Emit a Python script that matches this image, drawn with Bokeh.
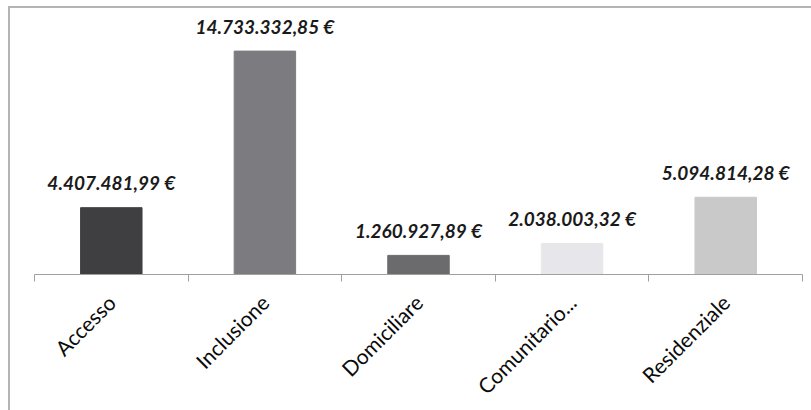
from bokeh.plotting import figure
from bokeh.models import ColumnDataSource, FixedTicker, Range1d
from bokeh.core.properties import value
from bokeh.embed import file_html
from bokeh.resources import INLINE

categories = ["Accesso", "Inclusione", "Domiciliare", "Comunitario...", "Residenziale"]
values = [4407481.99, 14733332.85, 1260927.89, 2038003.32, 5094814.28]
labels = ["4.407.481,99 €", "14.733.332,85 €", "1.260.927,89 €", "2.038.003,32 €", "5.094.814,28 €"]
colors = ["#3f3f41", "#7c7c80", "#6b6b6d", "#e7e7eb", "#c9c9c9"]

xs = [i + 0.5 for i in range(len(categories))]
src = ColumnDataSource(dict(x=xs, top=values, label=labels, color=colors))

p = figure(width=803, height=404, output_backend="svg", toolbar_location=None,
           x_range=Range1d(0, len(categories)), y_range=Range1d(0, 17.28e6),
           min_border_left=24, min_border_right=11, min_border_top=4, min_border_bottom=138)
p.styles = {"border-left": "2px solid #b4b4b4", "border-top": "2px solid #b4b4b4",
            "box-sizing": "border-box", "margin-left": "8px", "margin-top": "6px"}
p.outline_line_color = None
p.grid.visible = False
p.yaxis.visible = False

p.vbar(x="x", top="top", width=0.4, bottom=0, color="color", source=src)
p.text(x="x", y="top", text="label", source=src, text_align="center", text_baseline="alphabetic",
       y_offset=-25, text_font=value("Lato"), text_font_style="bold italic",
       text_font_size="19px", text_color="#1a1a1a")

ax = p.xaxis[0]
ax.ticker = FixedTicker(ticks=xs, minor_ticks=list(range(len(categories) + 1)))
ax.major_label_overrides = {x: c for x, c in zip(xs, categories)}
ax.major_tick_line_color = None
ax.minor_tick_line_color = "#a0a0a0"
ax.minor_tick_out = 7
ax.minor_tick_in = 0
ax.axis_line_color = "#a0a0a0"
ax.major_label_orientation = 0.785398
ax.major_label_text_font = "Lato"
ax.major_label_text_font_size = "21px"
ax.major_label_text_color = "#0a0a0a"
ax.major_label_standoff = 17

open("out.html", "w").write(file_html(p, INLINE))
